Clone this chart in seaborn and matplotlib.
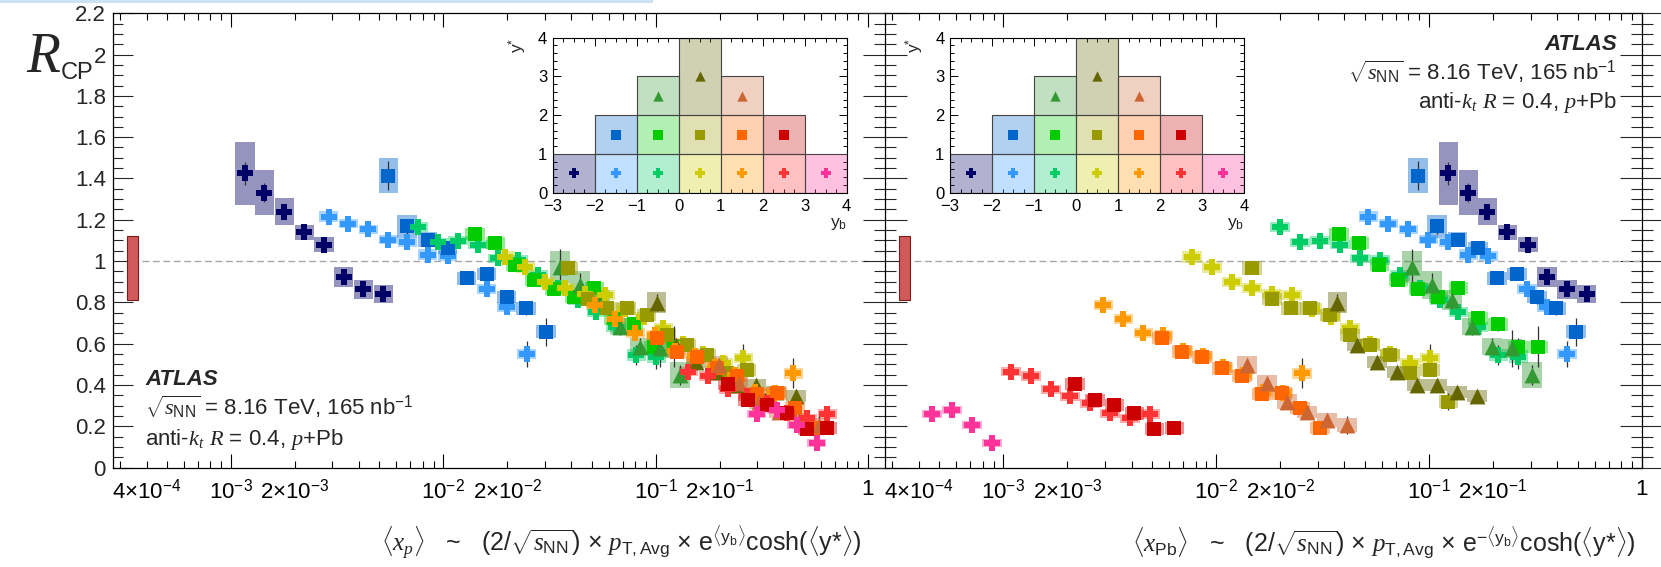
import numpy as np
import matplotlib
matplotlib.use("Agg")
import matplotlib.pyplot as plt
from matplotlib.colors import to_rgba
from matplotlib.patches import Rectangle
from matplotlib.ticker import FixedLocator, FixedFormatter, MultipleLocator
import seaborn as sns

sns.set_style("ticks")
plt.rcParams["font.family"] = ["Liberation Sans", "DejaVu Sans"]
plt.rcParams["mathtext.fontset"] = "custom"
plt.rcParams["mathtext.rm"] = "Liberation Sans"
plt.rcParams["mathtext.sf"] = "Liberation Sans"
plt.rcParams["mathtext.it"] = "Liberation Serif:italic"
plt.rcParams["mathtext.bf"] = "Liberation Sans:bold"

# ---------------------------------------------------------------------------
# R_CP per (y_b, y*) bin: <x_p>, <x_Pb>, value, stat. error, syst. error
# ---------------------------------------------------------------------------
# -3 < y_b < -2, 0 < y* < 1
ybm3_ys01_xp = [1.164e-3, 1.436e-3, 1.782e-3, 2.213e-3, 2.742e-3, 3.396e-3, 4.198e-3, 5.212e-3]
ybm3_ys01_xpb = [0.1234, 0.1532, 0.1880, 0.2336, 0.2912, 0.3578, 0.4442, 0.5512]
ybm3_ys01_rcp = [1.425, 1.331, 1.239, 1.139, 1.079, 0.922, 0.863, 0.840]
ybm3_ys01_stat = [0.055, 0.045, 0.025, 0.020, 0.020, 0.035, 0.030, 0.035]
ybm3_ys01_sys = [0.152, 0.109, 0.065, 0.038, 0.036, 0.048, 0.045, 0.045]

# -2 < y_b < -1, 0 < y* < 1
ybm2_ys01_xp = [2.885e-3, 3.568e-3, 4.432e-3, 5.506e-3, 6.765e-3, 8.444e-3, 1.049e-2, 1.601e-2, 1.988e-2, 2.470e-2]
ybm2_ys01_xpb = [0.05189, 0.06446, 0.0800, 0.09936, 0.1234, 0.1532, 0.1901, 0.2882, 0.3578, 0.4442]
ybm2_ys01_rcp = [1.215, 1.180, 1.153, 1.103, 1.092, 1.031, 1.025, 0.866, 0.779, 0.550]
ybm2_ys01_stat = [0.030, 0.015, 0.015, 0.015, 0.015, 0.015, 0.020, 0.025, 0.035, 0.065]
ybm2_ys01_sys = [0.028, 0.022, 0.022, 0.022, 0.022, 0.025, 0.025, 0.025, 0.025, 0.025]

# -2 < y_b < -1, 1 < y* < 2
ybm2_ys12_xp = [5.506e-3, 6.745e-3, 8.426e-3, 1.049e-2, 1.289e-2, 1.601e-2, 1.988e-2, 2.452e-2, 3.046e-2]
ybm2_ys12_xpb = [0.08887, 0.1092, 0.1362, 0.1696, 0.2083, 0.2586, 0.3210, 0.3957, 0.4913]
ybm2_ys12_rcp = [1.414, 1.168, 1.104, 1.064, 0.916, 0.938, 0.827, 0.771, 0.658]
ybm2_ys12_stat = [0.070, 0.035, 0.020, 0.020, 0.020, 0.020, 0.035, 0.030, 0.068]
ybm2_ys12_sys = [0.085, 0.054, 0.035, 0.030, 0.030, 0.030, 0.030, 0.030, 0.030]

# -1 < y_b < 0, 0 < y* < 1
ybm1_ys01_xp = [7.600e-3, 9.441e-3, 1.173e-2, 1.457e-2, 1.810e-2, 2.248e-2, 2.793e-2, 3.470e-2, 4.310e-2,
                5.256e-2, 6.510e-2, 8.111e-2, 0.1008]
ybm1_ys01_xpb = [1.996e-2, 2.479e-2, 3.078e-2, 3.821e-2, 4.746e-2, 5.893e-2, 7.313e-2, 9.082e-2, 0.1128,
                 0.1374, 0.1701, 0.2119, 0.2631]
ybm1_ys01_rcp = [1.166, 1.090, 1.098, 1.080, 1.013, 1.005, 0.930, 0.870, 0.811, 0.752, 0.680, 0.545, 0.537]
ybm1_ys01_stat = [0.020, 0.015, 0.015, 0.015, 0.015, 0.015, 0.020, 0.020, 0.025, 0.030, 0.035, 0.050, 0.060]
ybm1_ys01_sys = [0.025, 0.022, 0.022, 0.022, 0.022, 0.022, 0.025, 0.025, 0.025, 0.025, 0.025, 0.030, 0.030]

# -1 < y_b < 0, 1 < y* < 2
ybm1_ys12_xp = [1.410e-2, 1.757e-2, 2.183e-2, 2.683e-2, 3.333e-2, 4.140e-2, 5.143e-2, 6.348e-2, 7.881e-2,
                9.795e-2, 0.1217]
ybm1_ys12_xpb = [3.780e-2, 4.709e-2, 5.846e-2, 7.181e-2, 8.916e-2, 0.1107, 0.1374, 0.1696, 0.2105, 0.2614, 0.3245]
ybm1_ys12_rcp = [1.132, 1.086, 0.981, 0.908, 0.866, 0.827, 0.868, 0.722, 0.693, 0.585, 0.585]
ybm1_ys12_stat = [0.030, 0.020, 0.020, 0.020, 0.020, 0.020, 0.020, 0.030, 0.030, 0.040, 0.100]
ybm1_ys12_sys = [0.030, 0.030, 0.030, 0.030, 0.030, 0.030, 0.030, 0.030, 0.030, 0.030, 0.030]

# -1 < y_b < 0, 2 < y* < 3
ybm1_ys23_xp = [3.545e-2, 4.405e-2, 5.470e-2, 6.795e-2, 8.443e-2, 0.1049, 0.1303]
ybm1_ys23_xpb = [8.302e-2, 0.1031, 0.1280, 0.1589, 0.1973, 0.2449, 0.3041]
ybm1_ys23_rcp = [0.972, 0.884, 0.811, 0.682, 0.585, 0.577, 0.448]
ybm1_ys23_stat = [0.085, 0.060, 0.050, 0.040, 0.040, 0.090, 0.050]
ybm1_ys23_sys = [0.077, 0.070, 0.050, 0.040, 0.040, 0.045, 0.065]

# 0 < y_b < 1, 0 < y* < 1
yb0_ys01_xp = [1.953e-2, 2.433e-2, 3.022e-2, 3.755e-2, 4.665e-2, 5.797e-2, 7.198e-2, 8.847e-2, 0.1087,
               0.1351, 0.1678, 0.2084, 0.2589]
yb0_ys01_xpb = [7.679e-3, 9.565e-3, 1.188e-2, 1.475e-2, 1.831e-2, 2.273e-2, 2.822e-2, 3.467e-2, 4.257e-2,
                5.286e-2, 6.565e-2, 8.150e-2, 0.1012]
yb0_ys01_rcp = [1.021, 0.969, 0.897, 0.868, 0.840, 0.835, 0.770, 0.730, 0.674, 0.600, 0.550, 0.505, 0.529]
yb0_ys01_stat = [0.020, 0.015, 0.015, 0.015, 0.015, 0.015, 0.020, 0.020, 0.020, 0.025, 0.025, 0.040, 0.070]
yb0_ys01_sys = [0.030, 0.025, 0.025, 0.025, 0.025, 0.025, 0.025, 0.025, 0.025, 0.025, 0.025, 0.025, 0.025]

# 0 < y_b < 1, 1 < y* < 2
yb0_ys12_xp = [3.879e-2, 4.819e-2, 5.923e-2, 7.301e-2, 9.071e-2, 0.1127, 0.1400, 0.1739, 0.2160, 0.2683, 0.3275]
yb0_ys12_xpb = [1.470e-2, 1.825e-2, 2.242e-2, 2.763e-2, 3.430e-2, 4.257e-2, 5.286e-2, 6.565e-2, 8.150e-2,
                0.1012, 0.1234]
yb0_ys12_rcp = [0.965, 0.816, 0.771, 0.771, 0.738, 0.642, 0.593, 0.545, 0.456, 0.472, 0.319]
yb0_ys12_stat = [0.030, 0.020, 0.020, 0.020, 0.020, 0.020, 0.020, 0.025, 0.025, 0.030, 0.040]
yb0_ys12_sys = [0.032, 0.030, 0.030, 0.030, 0.030, 0.030, 0.030, 0.030, 0.030, 0.030, 0.030]

# 0 < y_b < 1, 2 < y* < 4
yb0_ys24_xp = [0.1012, 0.1248, 0.1550, 0.1926, 0.2391, 0.2971, 0.3691, 0.4585]
yb0_ys24_xpb = [3.711e-2, 4.576e-2, 5.684e-2, 7.057e-2, 8.764e-2, 0.1088, 0.1351, 0.1677]
yb0_ys24_rcp = [0.798, 0.593, 0.512, 0.464, 0.400, 0.400, 0.367, 0.346]
yb0_ys24_stat = [0.040, 0.030, 0.030, 0.030, 0.030, 0.030, 0.030, 0.030]
yb0_ys24_sys = [0.052, 0.030, 0.030, 0.030, 0.030, 0.030, 0.030, 0.030]

# 1 < y_b < 2, 0 < y* < 1
yb1_ys01_xp = [5.200e-2, 6.460e-2, 8.025e-2, 9.968e-2, 0.1238, 0.1538, 0.1911, 0.2373, 0.2948, 0.3663, 0.4452]
yb1_ys01_xpb = [2.950e-3, 3.664e-3, 4.547e-3, 5.648e-3, 7.015e-3, 8.706e-3, 1.081e-2, 1.342e-2, 1.666e-2,
                2.069e-2, 2.525e-2]
yb1_ys01_rcp = [0.787, 0.720, 0.650, 0.640, 0.565, 0.540, 0.485, 0.450, 0.365, 0.360, 0.456]
yb1_ys01_stat = [0.020, 0.015, 0.015, 0.015, 0.015, 0.015, 0.020, 0.020, 0.020, 0.025, 0.073]
yb1_ys01_sys = [0.025, 0.025, 0.025, 0.025, 0.025, 0.025, 0.025, 0.025, 0.025, 0.025, 0.025]

# 1 < y_b < 2, 1 < y* < 2
yb1_ys12_xp = [0.1012, 0.1257, 0.1568, 0.1949, 0.2420, 0.3007, 0.3735, 0.4536, 0.5631]
yb1_ys12_xpb = [5.550e-3, 6.893e-3, 8.557e-3, 1.062e-2, 1.319e-2, 1.638e-2, 2.033e-2, 2.479e-2, 3.078e-2]
yb1_ys12_rcp = [0.626, 0.561, 0.535, 0.480, 0.443, 0.357, 0.359, 0.287, 0.190]
yb1_ys12_stat = [0.020, 0.020, 0.020, 0.020, 0.020, 0.020, 0.020, 0.025, 0.030]
yb1_ys12_sys = [0.030, 0.030, 0.030, 0.030, 0.030, 0.030, 0.030, 0.030, 0.030]

# 1 < y_b < 2, 2 < y* < 3
yb1_ys23_xp = [0.1982, 0.2462, 0.3058, 0.3799, 0.4721, 0.5864]
yb1_ys23_xpb = [1.392e-2, 1.729e-2, 2.147e-2, 2.666e-2, 3.309e-2, 4.108e-2]
yb1_ys23_rcp = [0.496, 0.408, 0.319, 0.270, 0.230, 0.206]
yb1_ys23_stat = [0.030, 0.030, 0.030, 0.030, 0.030, 0.045]
yb1_ys23_sys = [0.045, 0.040, 0.035, 0.030, 0.035, 0.035]

# 2 < y_b < 3, 0 < y* < 1
yb2_ys01_xp = [0.1426, 0.1771, 0.2200, 0.2703, 0.3358, 0.4172, 0.5183, 0.6437]
yb2_ys01_xpb = [1.087e-3, 1.349e-3, 1.675e-3, 2.057e-3, 2.555e-3, 3.172e-3, 3.939e-3, 4.892e-3]
yb2_ys01_rcp = [0.464, 0.443, 0.380, 0.346, 0.310, 0.262, 0.238, 0.259]
yb2_ys01_stat = [0.015, 0.015, 0.015, 0.015, 0.015, 0.015, 0.020, 0.020]
yb2_ys01_sys = [0.022, 0.022, 0.022, 0.022, 0.022, 0.022, 0.022, 0.022]

# 2 < y_b < 3, 1 < y* < 2
yb2_ys12_xp = [0.2193, 0.2723, 0.3358, 0.4172, 0.5183, 0.6437]
yb2_ys12_xpb = [2.172e-3, 2.697e-3, 3.323e-3, 4.126e-3, 5.125e-3, 6.361e-3]
yb2_ys12_rcp = [0.404, 0.327, 0.303, 0.262, 0.186, 0.190]
yb2_ys12_stat = [0.020, 0.020, 0.020, 0.020, 0.020, 0.020]
yb2_ys12_sys = [0.030, 0.030, 0.030, 0.030, 0.030, 0.030]

# 3 < y_b < 4, 0 < y* < 1
yb3_ys01_xp = [0.2994, 0.3719, 0.4620, 0.5739]
yb3_ys01_xpb = [4.607e-4, 5.721e-4, 7.104e-4, 8.820e-4]
yb3_ys01_rcp = [0.258, 0.280, 0.205, 0.117]
yb3_ys01_stat = [0.015, 0.015, 0.015, 0.015]
yb3_ys01_sys = [0.020, 0.020, 0.020, 0.020]

# (y_b, y*) acceptance cells of the bins above, same order
cell_yb_low = [-3, -2, -2, -1, -1, -1, 0, 0, 0, 1, 1, 1, 2, 2, 3]
cell_ys_low = [0, 0, 1, 0, 1, 2, 0, 1, 2, 0, 1, 2, 0, 1, 0]
cell_ys_high = [1, 1, 2, 1, 2, 3, 1, 2, 4, 1, 2, 3, 1, 2, 1]
cell_ys_mark = [0.5, 0.5, 1.5, 0.5, 1.5, 2.5, 0.5, 1.5, 3.0, 0.5, 1.5, 2.5, 0.5, 1.5, 0.5]

bin_colors = ["#000066", "#3399ff", "#0066cc", "#00cc66", "#00cc00", "#339933", "#cccc00", "#999900",
              "#666600", "#ff9900", "#ff6600", "#cc6633", "#ff3333", "#cc0000", "#ff3399"]
bin_markers = ["P", "P", "s", "P", "s", "^", "P", "s", "^", "P", "s", "^", "P", "s", "P"]

# normalisation uncertainty on R_CP
norm_low, norm_high = 0.81, 1.12

# axis tick labels
major_ticks = [1e-3, 1e-2, 1e-1, 1.0]
major_labels = [r"10$^{-3}$", r"10$^{-2}$", r"10$^{-1}$", "1"]
labelled_minor = [4e-4, 2e-3, 2e-2, 2e-1]
labelled_minor_text = [r"4×10$^{-4}$", r"2×10$^{-3}$", r"2×10$^{-2}$", r"2×10$^{-1}$"]
y_ticks = [0.0, 0.2, 0.4, 0.6, 0.8, 1.0, 1.2, 1.4, 1.6, 1.8, 2.0, 2.2]

# ---------------------------------------------------------------------------
names = ["ybm3_ys01", "ybm2_ys01", "ybm2_ys12", "ybm1_ys01", "ybm1_ys12", "ybm1_ys23", "yb0_ys01",
         "yb0_ys12", "yb0_ys24", "yb1_ys01", "yb1_ys12", "yb1_ys23", "yb2_ys01", "yb2_ys12", "yb3_ys01"]
g = globals()
series = []
for i, n in enumerate(names):
    series.append(dict(xp=np.array(g[n + "_xp"]), xpb=np.array(g[n + "_xpb"]), rcp=np.array(g[n + "_rcp"]),
                       stat=np.array(g[n + "_stat"]), sys=np.array(g[n + "_sys"]),
                       color=bin_colors[i], marker=bin_markers[i]))

W, H = 1661, 567
fig = plt.figure(figsize=(W / 100, H / 100), dpi=100)
fig.patch.set_facecolor("white")


def frac(x0, y_top, w, h):
    return [x0 / W, 1 - (y_top + h) / H, w / W, h / H]


ax_l = fig.add_axes(frac(112.7, 13.3, 772.1, 454.2))
ax_r = fig.add_axes(frac(884.8, 13.3, 757.0, 454.2))

MARKER_SIZE = {"P": 125, "s": 100, "^": 130}
BOX_HALF = 1.111


def minor_ticks():
    t = []
    for d in range(-4, 0):
        for k in range(2, 10):
            t.append(k * 10.0 ** d)
    return t


def style_axis(ax, xmax, right_panel):
    ax.set_xscale("log")
    ax.set_xlim(2.77e-4, xmax)
    ax.set_ylim(0, 2.2)
    ax.xaxis.set_major_locator(FixedLocator(major_ticks))
    ax.xaxis.set_major_formatter(FixedFormatter(major_labels))
    mt = minor_ticks()
    ax.xaxis.set_minor_locator(FixedLocator(mt))
    lab = []
    for t in mt:
        txt = ""
        for v, s in zip(labelled_minor, labelled_minor_text):
            if abs(t - v) / v < 1e-6:
                txt = s
        lab.append(txt)
    ax.xaxis.set_minor_formatter(FixedFormatter(lab))
    ax.yaxis.set_major_locator(FixedLocator(y_ticks))
    ax.yaxis.set_minor_locator(MultipleLocator(0.05))
    ax.tick_params(axis="x", which="major", direction="in", length=10, width=0.8, top=True,
                   labelsize=16, pad=8, colors="black")
    ax.tick_params(axis="x", which="minor", direction="in", length=5, width=0.8, top=True,
                   labelsize=16, pad=8, colors="black")
    for sp in ax.spines.values():
        sp.set_linewidth(0.9)
        sp.set_color("black")
    if right_panel:
        ax.tick_params(axis="y", which="major", direction="inout", length=31, width=0.8,
                       left=True, right=True, labelleft=False)
        ax.tick_params(axis="y", which="minor", direction="inout", length=16, width=0.8,
                       left=True, right=True)
    else:
        ax.spines["right"].set_visible(False)
        ax.tick_params(axis="y", which="major", direction="in", length=14.5, width=0.8,
                       left=True, right=False, labelsize=16, pad=5)
        ax.tick_params(axis="y", which="minor", direction="in", length=7, width=0.8,
                       left=True, right=False)
        ax.yaxis.set_major_formatter(FixedFormatter(["%g" % v for v in y_ticks]))
    ax.set_xlabel("")
    ax.set_ylabel("")


def draw_panel(ax, key):
    # normalisation uncertainty and unity reference
    ax.bar([3.24e-4], [norm_high - norm_low], bottom=[norm_low], width=[0.40e-4], align="edge",
           color="#d05a5a", edgecolor="#7a1c1c", linewidth=0.8, zorder=2)
    ax.hlines(1.0, 3.8e-4, 1.0, colors="#a8a8a8", linestyles=(0, (5, 2.5)), linewidth=1.0, zorder=1)
    for s in series:
        x, y, e = s[key], s["rcp"], s["sys"]
        lo, hi = x / BOX_HALF, x * BOX_HALF
        ax.bar(lo, 2 * e, bottom=y - e, width=hi - lo, align="edge", color=s["color"],
               alpha=0.42, linewidth=0, zorder=2)
    for s in series:
        ax.errorbar(s[key], s["rcp"], yerr=s["stat"], fmt="none", ecolor="#333333",
                    elinewidth=0.9, capsize=0, zorder=3)
    for s in series:
        sns.scatterplot(x=s[key], y=s["rcp"], marker=s["marker"], color=s["color"],
                        s=MARKER_SIZE[s["marker"]], linewidth=0, ax=ax, zorder=4, legend=False)


style_axis(ax_l, 1.201, False)
style_axis(ax_r, 1.0, True)
draw_panel(ax_l, "xp")
draw_panel(ax_r, "xpb")
style_axis(ax_l, 1.201, False)
style_axis(ax_r, 1.0, True)


def draw_inset(rect):
    ia = fig.add_axes(frac(*rect))
    ia.set_facecolor("white")
    for i, s in enumerate(series):
        ia.bar([cell_yb_low[i] + 0.5], [cell_ys_high[i] - cell_ys_low[i]], bottom=[cell_ys_low[i]],
               width=1.0, color=to_rgba(s["color"], 0.3), edgecolor="#444444", linewidth=0.8, zorder=2)
    for i, s in enumerate(series):
        sns.scatterplot(x=[cell_yb_low[i] + 0.5], y=[cell_ys_mark[i]], marker=s["marker"],
                        color=s["color"], s=0.42 * MARKER_SIZE[s["marker"]], linewidth=0, ax=ia,
                        zorder=3, legend=False)
    ia.set_xlim(-3, 4)
    ia.set_ylim(0, 4)
    ia.xaxis.set_major_locator(MultipleLocator(1))
    ia.xaxis.set_minor_locator(MultipleLocator(0.25))
    ia.yaxis.set_major_locator(MultipleLocator(1))
    ia.yaxis.set_minor_locator(MultipleLocator(0.2))
    ia.tick_params(which="both", direction="in", top=True, right=True, width=0.7, colors="black",
                   labelsize=12)
    ia.tick_params(axis="x", which="major", length=6, pad=4.5)
    ia.tick_params(axis="y", which="major", length=6, pad=4)
    ia.tick_params(which="minor", length=3)
    for sp in ia.spines.values():
        sp.set_linewidth(0.8)
        sp.set_color("black")
    ia.set_xlabel("")
    ia.set_ylabel("")
    ia.text(-0.08, 1.0, r"y$^{*}$", transform=ia.transAxes, rotation=90, ha="right", va="top", fontsize=12.5)
    ia.text(1.0, -0.15, r"y$_{\mathrm{b}}$", transform=ia.transAxes, ha="right", va="top", fontsize=12.5)
    return ia


draw_inset((552.7, 37.7, 294.0, 155.0))
draw_inset((950.0, 37.7, 294.0, 155.0))

# axis titles
fig.text(26 / W, 1 - 72 / H, r"$R$", fontsize=40, ha="left", va="baseline")
fig.text(61 / W, 1 - 79 / H, "CP", fontsize=17, ha="left", va="baseline")
fig.text(862 / W, 1 - 552 / H,
         r"$\langle x_{p}\rangle$   ~   (2/$\sqrt{s_{\mathrm{NN}}}$) × $p_{\mathrm{T,Avg}}$ × e$^{\langle \mathrm{y_b}\rangle}$cosh($\langle$y*$\rangle$)",
         fontsize=18, ha="right", va="baseline")
fig.text(1636 / W, 1 - 552 / H,
         r"$\langle x_{\mathrm{Pb}}\rangle$   ~   (2/$\sqrt{s_{\mathrm{NN}}}$) × $p_{\mathrm{T,Avg}}$ × e$^{-\langle \mathrm{y_b}\rangle}$cosh($\langle$y*$\rangle$)",
         fontsize=18, ha="right", va="baseline")

atlas_lines = ["ATLAS", r"$\sqrt{s_{\mathrm{NN}}}$ = 8.16 TeV, 165 nb$^{-1}$",
               r"anti-$k_{t}$ $R$ = 0.4, $p$+Pb"]
for txt, yb in zip(atlas_lines, [385, 415, 445]):
    kw = dict(fontweight="bold", fontstyle="italic") if txt == "ATLAS" else {}
    fig.text(145 / W, 1 - yb / H, txt, fontsize=16, ha="left", va="baseline", **kw)
for txt, yb in zip(atlas_lines, [50, 80, 108]):
    kw = dict(fontweight="bold", fontstyle="italic") if txt == "ATLAS" else {}
    fig.text(1617 / W, 1 - yb / H, txt, fontsize=16, ha="right", va="baseline", **kw)

# thin highlight strip along the top edge
fig.add_artist(Rectangle((0, 1 - 3 / H), 653 / W, 3 / H, transform=fig.transFigure,
                         color="#cfe2f4", linewidth=0))

fig.savefig("out.png", dpi=100)
